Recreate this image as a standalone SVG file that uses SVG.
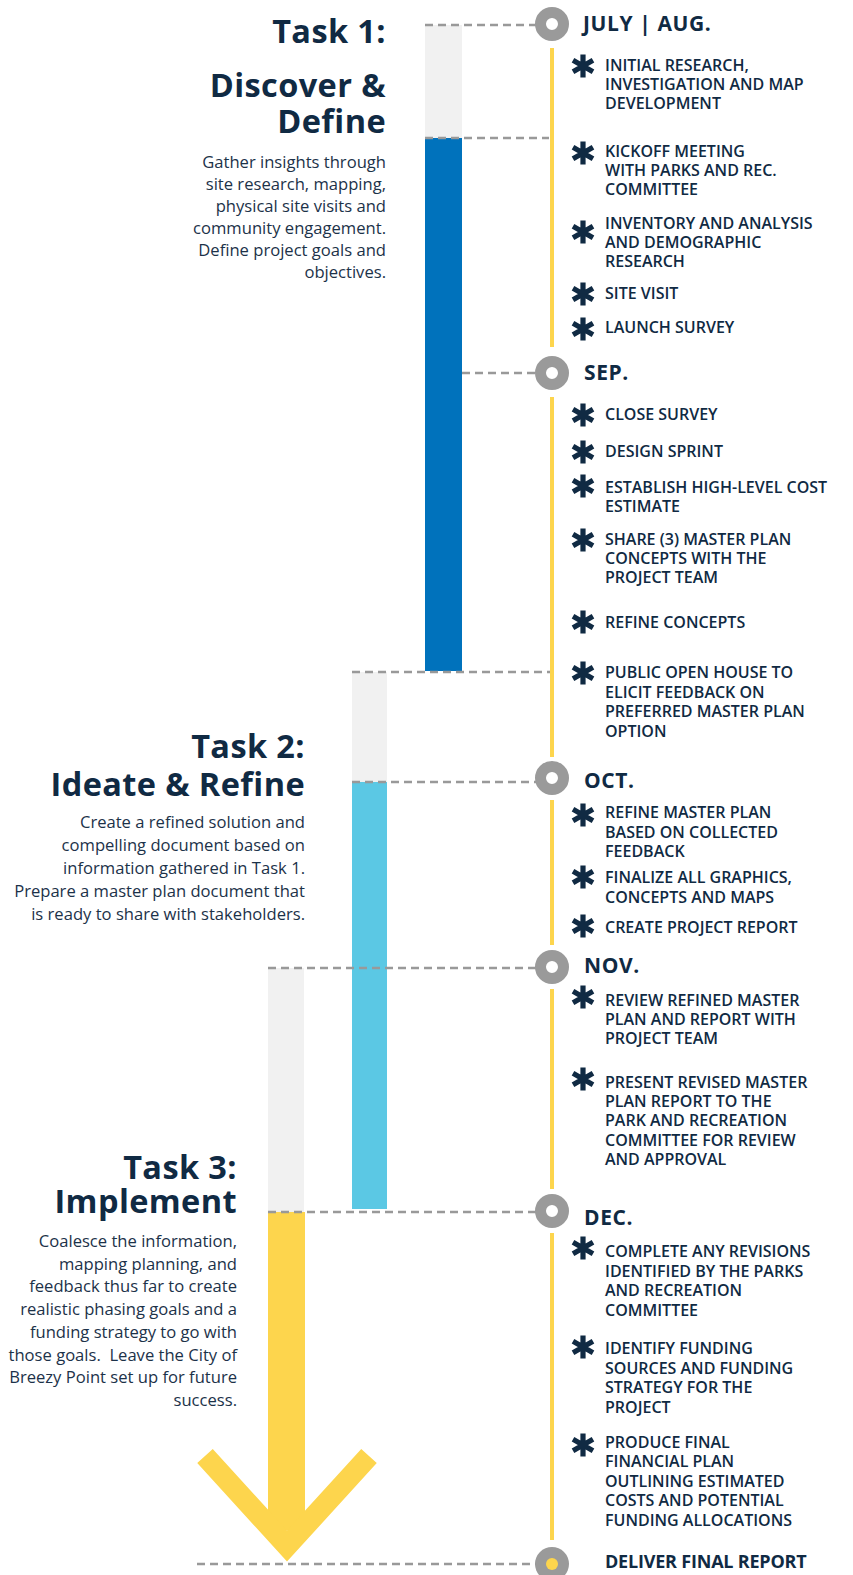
<svg xmlns="http://www.w3.org/2000/svg" width="853" height="1575" viewBox="0 0 853 1575">
<style>
text{font-family:'Open Sans','Noto Sans','Liberation Sans',sans-serif;fill:#102a43}
.h{font-size:32.5px;font-weight:700;text-anchor:end;letter-spacing:0.4px}
.d{font-size:16.6px;font-weight:400;text-anchor:end;fill:#1c3249}
.m{font-size:21px;font-weight:700;letter-spacing:0.6px}
.i{font-size:16px;font-weight:600;letter-spacing:0px}
.dash{stroke:#999;stroke-width:2.5;stroke-dasharray:8 5;fill:none}
.tl{stroke:#fdd54d;stroke-width:4;fill:none}
.ring{fill:none;stroke:#9a9a9a;stroke-width:11}
</style>
<defs>
<g id="ast"><path d="M0,-11.5V11.5M-10,-5.75L10,5.75M-10,5.75L10,-5.75" stroke="#102a43" stroke-width="5.2" fill="none"/></g>
</defs>
<rect width="853" height="1575" fill="#fff"/>

<g id="bars">
<rect x="425" y="25" width="37" height="113" fill="#f1f1f1"/>
<rect x="425" y="138" width="37" height="533" fill="#0072bc"/>
<rect x="352" y="672" width="35" height="110" fill="#f1f1f1"/>
<rect x="352" y="782" width="35" height="427" fill="#5bc8e4"/>
<rect x="268" y="968" width="36" height="244" fill="#f1f1f1"/>
<rect x="268" y="1212" width="37" height="318" fill="#fdd54d"/>
<polyline points="205,1456 287,1546 369,1456" fill="none" stroke="#fdd54d" stroke-width="21" stroke-linejoin="miter" stroke-miterlimit="10"/>
</g>

<g id="connectors">
<line class="dash" x1="425" y1="25" x2="536" y2="25"/>
<line class="dash" x1="425" y1="138" x2="549" y2="138"/>
<line class="dash" x1="462" y1="373" x2="536" y2="373"/>
<line class="dash" x1="352" y1="672" x2="550" y2="672"/>
<line class="dash" x1="352" y1="782" x2="536" y2="782"/>
<line class="dash" x1="268" y1="968" x2="536" y2="968"/>
<line class="dash" x1="268" y1="1212" x2="536" y2="1212"/>
<line class="dash" x1="197" y1="1564" x2="536" y2="1564"/>
<line class="tl" x1="552" y1="48" x2="552" y2="347"/>
<line class="tl" x1="552" y1="397" x2="552" y2="757"/>
<line class="tl" x1="552" y1="800" x2="552" y2="945"/>
<line class="tl" x1="552" y1="989" x2="552" y2="1189"/>
<line class="tl" x1="552" y1="1233" x2="552" y2="1540"/>
</g>

<g id="task1">
<text class="h" x="386" y="43">Task 1:</text>
<text class="h" x="386" y="97">Discover &amp;</text>
<text class="h" x="386" y="133">Define</text>
<text class="d" x="386" y="168">Gather insights through</text>
<text class="d" x="386" y="190">site research, mapping,</text>
<text class="d" x="386" y="212">physical site visits and</text>
<text class="d" x="386" y="234">community engagement.</text>
<text class="d" x="386" y="256">Define project goals and</text>
<text class="d" x="386" y="278">objectives.</text>
</g>

<g id="task2">
<text class="h" x="305" y="758">Task 2:</text>
<text class="h" x="305" y="796">Ideate &amp; Refine</text>
<text class="d" x="305" y="828">Create a refined solution and</text>
<text class="d" x="305" y="851">compelling document based on</text>
<text class="d" x="305" y="874">information gathered in Task 1.</text>
<text class="d" x="305" y="897">Prepare a master plan document that</text>
<text class="d" x="305" y="920">is ready to share with stakeholders.</text>
</g>

<g id="task3">
<text class="h" x="237" y="1179">Task 3:</text>
<text class="h" x="237" y="1213">Implement</text>
<text class="d" x="237" y="1247">Coalesce the information,</text>
<text class="d" x="237" y="1270">mapping planning, and</text>
<text class="d" x="237" y="1292">feedback thus far to create</text>
<text class="d" x="237" y="1315">realistic phasing goals and a</text>
<text class="d" x="237" y="1338">funding strategy to go with</text>
<text class="d" x="237" y="1361">those goals.&#160; Leave the City of</text>
<text class="d" x="237" y="1383">Breezy Point set up for future</text>
<text class="d" x="237" y="1406">success.</text>
</g>

<g id="m-julaug">
<circle class="ring" cx="552" cy="24" r="11.5"/>
<text class="m" x="583" y="31">JULY | AUG.</text>
</g>
<g id="m-sep">
<circle class="ring" cx="552" cy="373" r="11.5"/>
<text class="m" x="584" y="380">SEP.</text>
</g>
<g id="m-oct">
<circle class="ring" cx="552" cy="778" r="11.5"/>
<text class="m" x="584" y="788">OCT.</text>
</g>
<g id="m-nov">
<circle class="ring" cx="552" cy="967" r="11.5"/>
<text class="m" x="584" y="973">NOV.</text>
</g>
<g id="m-dec">
<circle class="ring" cx="552" cy="1211" r="11.5"/>
<text class="m" x="584" y="1225">DEC.</text>
</g>
<g id="m-deliver">
<circle cx="552" cy="1564" r="17" fill="#9a9a9a"/>
<circle cx="552" cy="1564" r="6" fill="#fdd54d"/>
<text class="m" x="605" y="1568" style="font-size:18px;letter-spacing:-0.2px">DELIVER FINAL REPORT</text>
</g>

<g id="item1"><use href="#ast" x="583" y="66"/><text class="i" x="605" y="71">INITIAL RESEARCH,</text><text class="i" x="605" y="90">INVESTIGATION AND MAP</text><text class="i" x="605" y="109">DEVELOPMENT</text></g>
<g id="item2"><use href="#ast" x="583" y="153"/><text class="i" x="605" y="157">KICKOFF MEETING</text><text class="i" x="605" y="176">WITH PARKS AND REC.</text><text class="i" x="605" y="195">COMMITTEE</text></g>
<g id="item3"><use href="#ast" x="583" y="232"/><text class="i" x="605" y="229">INVENTORY AND ANALYSIS</text><text class="i" x="605" y="248">AND DEMOGRAPHIC</text><text class="i" x="605" y="267">RESEARCH</text></g>
<g id="item4"><use href="#ast" x="583" y="294"/><text class="i" x="605" y="299">SITE VISIT</text></g>
<g id="item5"><use href="#ast" x="583" y="329"/><text class="i" x="605" y="333">LAUNCH SURVEY</text></g>
<g id="item6"><use href="#ast" x="583" y="415"/><text class="i" x="605" y="420">CLOSE SURVEY</text></g>
<g id="item7"><use href="#ast" x="583" y="452"/><text class="i" x="605" y="457">DESIGN SPRINT</text></g>
<g id="item8"><use href="#ast" x="583" y="486"/><text class="i" x="605" y="493">ESTABLISH HIGH-LEVEL COST</text><text class="i" x="605" y="512">ESTIMATE</text></g>
<g id="item9"><use href="#ast" x="583" y="540"/><text class="i" x="605" y="545">SHARE (3) MASTER PLAN</text><text class="i" x="605" y="564">CONCEPTS WITH THE</text><text class="i" x="605" y="583">PROJECT TEAM</text></g>
<g id="item10"><use href="#ast" x="583" y="622"/><text class="i" x="605" y="628">REFINE CONCEPTS</text></g>
<g id="item11"><use href="#ast" x="583" y="673"/><text class="i" x="605" y="678">PUBLIC OPEN HOUSE TO</text><text class="i" x="605" y="698">ELICIT FEEDBACK ON</text><text class="i" x="605" y="717">PREFERRED MASTER PLAN</text><text class="i" x="605" y="737">OPTION</text></g>
<g id="item12"><use href="#ast" x="583" y="815"/><text class="i" x="605" y="818">REFINE MASTER PLAN</text><text class="i" x="605" y="838">BASED ON COLLECTED</text><text class="i" x="605" y="857">FEEDBACK</text></g>
<g id="item13"><use href="#ast" x="583" y="877"/><text class="i" x="605" y="883">FINALIZE ALL GRAPHICS,</text><text class="i" x="605" y="903">CONCEPTS AND MAPS</text></g>
<g id="item14"><use href="#ast" x="583" y="926"/><text class="i" x="605" y="933">CREATE PROJECT REPORT</text></g>
<g id="item15"><use href="#ast" x="583" y="997"/><text class="i" x="605" y="1006">REVIEW REFINED MASTER</text><text class="i" x="605" y="1025">PLAN AND REPORT WITH</text><text class="i" x="605" y="1044">PROJECT TEAM</text></g>
<g id="item16"><use href="#ast" x="583" y="1079"/><text class="i" x="605" y="1088">PRESENT REVISED MASTER</text><text class="i" x="605" y="1107">PLAN REPORT TO THE</text><text class="i" x="605" y="1126">PARK AND RECREATION</text><text class="i" x="605" y="1146">COMMITTEE FOR REVIEW</text><text class="i" x="605" y="1165">AND APPROVAL</text></g>
<g id="item17"><use href="#ast" x="583" y="1248"/><text class="i" x="605" y="1257">COMPLETE ANY REVISIONS</text><text class="i" x="605" y="1277">IDENTIFIED BY THE PARKS</text><text class="i" x="605" y="1296">AND RECREATION</text><text class="i" x="605" y="1316">COMMITTEE</text></g>
<g id="item18"><use href="#ast" x="583" y="1347"/><text class="i" x="605" y="1354">IDENTIFY FUNDING</text><text class="i" x="605" y="1374">SOURCES AND FUNDING</text><text class="i" x="605" y="1393">STRATEGY FOR THE</text><text class="i" x="605" y="1413">PROJECT</text></g>
<g id="item19"><use href="#ast" x="583" y="1445"/><text class="i" x="605" y="1448">PRODUCE FINAL</text><text class="i" x="605" y="1467">FINANCIAL PLAN</text><text class="i" x="605" y="1487">OUTLINING ESTIMATED</text><text class="i" x="605" y="1506">COSTS AND POTENTIAL</text><text class="i" x="605" y="1526">FUNDING ALLOCATIONS</text></g>
</svg>
